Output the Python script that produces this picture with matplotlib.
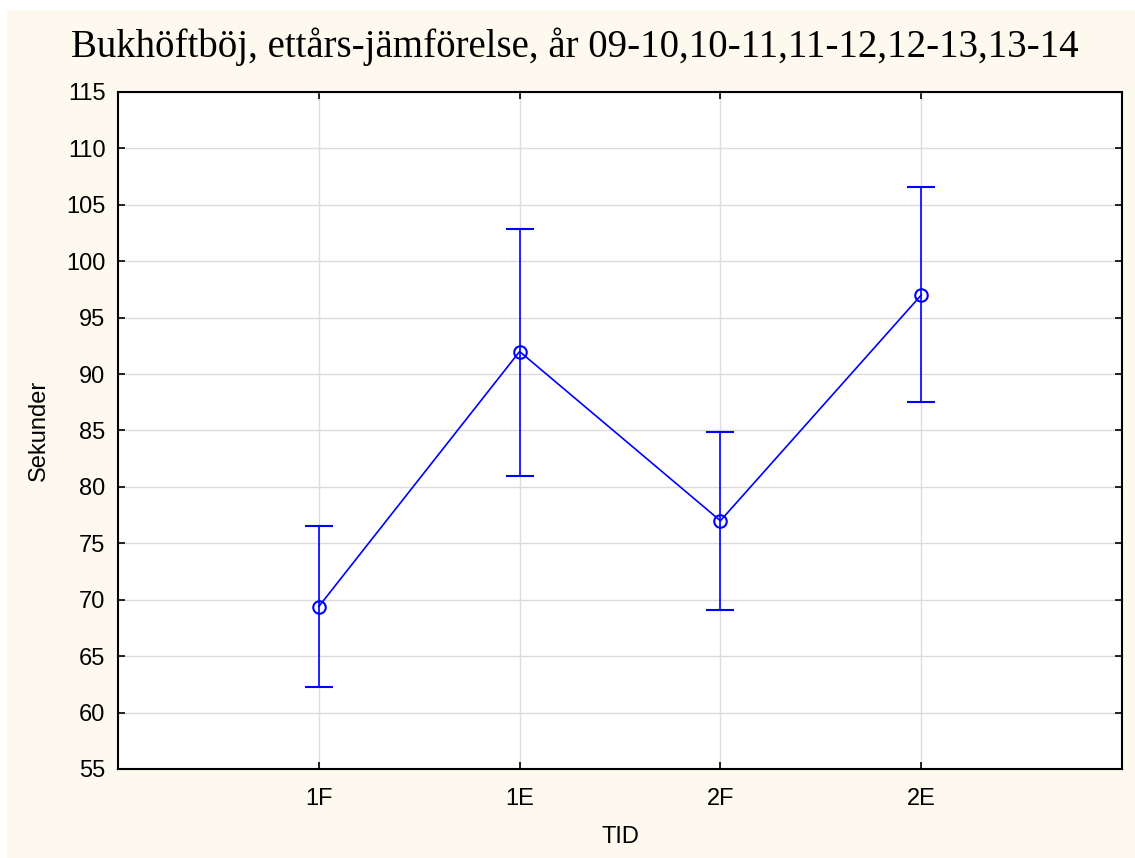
import matplotlib
matplotlib.use("Agg")
import matplotlib.pyplot as plt
from matplotlib.patches import Rectangle

# Data
tid = ["1F", "1E", "2F", "2E"]
medel = [69.4, 92.0, 77.0, 97.0]
ovre = [76.5, 102.9, 84.9, 106.6]
undre = [62.3, 81.0, 69.1, 87.5]

plt.rcParams["font.family"] = ["Liberation Sans", "DejaVu Sans"]

fig = plt.figure(figsize=(11.35, 8.58), dpi=100)
fig.patch.set_facecolor("white")
# cream background panel (white strip on top/left as in the original)
fig.add_artist(Rectangle((7 / 1135, 0.0), 1 - 7 / 1135, 1 - 10 / 858,
                         transform=fig.transFigure, facecolor="#fdf9ee",
                         edgecolor="none", zorder=-10))

ax = fig.add_axes([118 / 1135, 1 - 769 / 858, (1122 - 118) / 1135, (769 - 92) / 858])
ax.set_facecolor("white")

x = list(range(len(tid)))
yerr = [[m - u for m, u in zip(medel, undre)], [o - m for m, o in zip(medel, ovre)]]
ax.errorbar(x, medel, yerr=yerr, color="blue", lw=1.2, marker="o", ms=9,
            mfc="none", mec="blue", mew=1.5, capsize=10, capthick=1.2, elinewidth=1.2,
            zorder=3)

ax.set_xlim(-1, 4)
ax.set_ylim(55, 115)
ax.set_xticks(x)
ax.set_xticklabels(tid)
ax.set_yticks(range(55, 116, 5))
ax.grid(True, color="#dcdcdc", lw=1.0)
ax.set_axisbelow(True)
ax.tick_params(direction="in", length=5, width=1.2, labelsize=17,
               top=True, right=True)
ax.tick_params(axis="y", pad=9)
ax.tick_params(axis="x", pad=14)
for s in ax.spines.values():
    s.set_linewidth(1.5)

ax.set_xlabel("TID", fontsize=17, labelpad=11)
ax.set_ylabel("Sekunder", fontsize=17, labelpad=12)

fig.text(575 / 1135, 1 - 47 / 858, "Bukhöftböj, ettårs-jämförelse, år 09-10,10-11,11-12,12-13,13-14",
         ha="center", va="center", fontsize=28, family=["Liberation Serif", "DejaVu Serif"])

fig.savefig("out.png", dpi=100)
